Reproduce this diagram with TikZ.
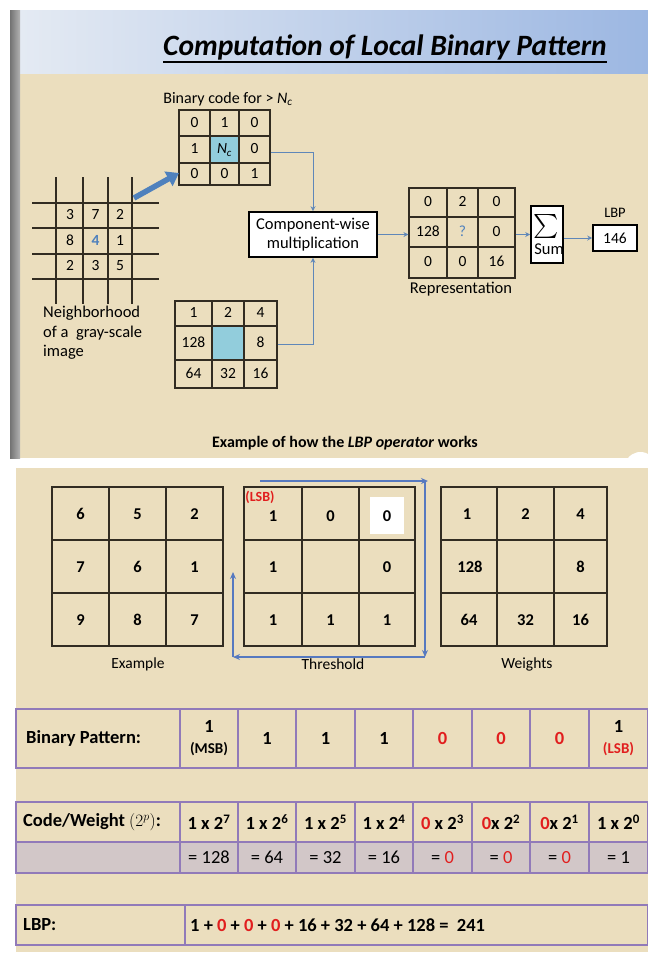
\documentclass[tikz,border=0pt]{standalone}
\usepackage{fontspec}
\setmainfont{Carlito}
\usetikzlibrary{arrows.meta,fit}
\definecolor{parch}{RGB}{235,222,190}
\definecolor{bandL}{RGB}{228,234,243}
\definecolor{bandR}{RGB}{156,183,226}
\definecolor{lineblue}{RGB}{95,135,185}
\definecolor{arrowblue}{RGB}{79,129,189}
\definecolor{cellblue}{RGB}{146,205,220}
\definecolor{lbpred}{RGB}{225,30,30}
\definecolor{tabpurple}{RGB}{145,122,185}
\definecolor{rowgray}{RGB}{210,199,200}
\definecolor{gridcol}{RGB}{50,44,34}
\newcommand{\threegrid}[9]{%
  \node[fit={(#2,#3) (#4,#5)}, inner sep=0pt, gridframe] (#1) {};
  \draw[gridframe] (#6,#3) -- (#6,#5) (#7,#3) -- (#7,#5) (#2,#8) -- (#4,#8) (#2,#9) -- (#4,#9);
}
\tikzset{
  gridframe/.style={draw=gridcol, line width=1.1pt},
  f14/.style={font=\fontsize{14.5}{17}\selectfont},
  f15/.style={font=\fontsize{15.5}{18}\selectfont},
  f16/.style={font=\fontsize{16.5}{19.5}\selectfont},
  num/.style={f15, inner sep=1pt, text height=0.63em, text depth=0pt, yshift=-1pt},
  bnum/.style={font=\fontsize{16.5}{19}\selectfont\bfseries, inner sep=1pt, text height=0.63em, text depth=0pt, yshift=-3pt},
  tabtxt/.style={font=\fontsize{18.5}{20}\selectfont\bfseries, inner sep=1pt},
  tabreg/.style={font=\fontsize{18.5}{20}\selectfont, inner sep=1pt},
  thickbox/.style={draw=black, line width=1.6pt, fill=white, inner sep=2pt},
  conn/.style={draw=lineblue, line width=0.9pt, -{Stealth[length=5pt,width=5pt]}},
  cycarrow/.style={draw=lineblue!90!blue, line width=1.4pt, -{Stealth[length=7pt,width=6pt]}},
  tabline/.style={draw=tabpurple, line width=1.4pt}
}
\begin{document}
\begin{tikzpicture}[x=1pt,y=-1pt]
\useasboundingbox (0,0) rectangle (648,956);
\fill[white] (0,0) rectangle (648,956);
% ---------------- slide 1 ----------------
\fill[parch] (20,72) rectangle (648,458);
\shade[left color=bandL, right color=bandR] (20,10) rectangle (648,73);
\shade[left color=black!55, right color=black!30] (10,10) rectangle (20,458);
\fill[white] (628,458) .. controls (633,452) and (641,450) .. (648,454) -- (648,458) -- cycle;
\node[font=\fontsize{29.5}{34}\selectfont\bfseries\itshape, anchor=base, inner sep=0pt] (title) at (385,55) {Computation of Local Binary Pattern};
\draw[line width=1.8pt] (title.base west) ++(0,7) -- ([yshift=-7pt]title.base east);
\node[font=\fontsize{16}{19}\selectfont, inner sep=0pt] (bclabel) at (228,99) {Binary code for > \textit{N}\textsubscript{\textit{c}}};
% binary code grid
\fill[cellblue] (210,136) rectangle (239,163);
\threegrid{bin}{179}{110}{270}{185}{210}{239}{136}{163}
\foreach \x/\t [count=\k] in {194.5/0,224.5/1,254.5/0} \node[num] (bina\k) at (\x,123) {\t};
\foreach \x/\t [count=\k] in {194.5/1,254.5/0} \node[num] (binb\k) at (\x,149.5) {\t};
\node[f15, inner sep=0pt] (nc) at (224.5,150) {\textit{N}\textsubscript{\textit{c}}};
\foreach \x/\t [count=\k] in {194.5/0,224.5/0,254.5/1} \node[num] (binc\k) at (\x,174) {\t};
% neighborhood
\foreach \y [count=\k] in {203,228,254,279} \draw[gridcol, line width=1.2pt] (32,\y) -- (159,\y) coordinate (nh\k);
\foreach \x [count=\k] in {56,83,108,132} \draw[gridcol, line width=1.2pt] (\x,177) coordinate (nv\k) -- (\x,304);
\foreach \x/\t [count=\k] in {70/3,95.5/7,120/2} \node[num] (nba\k) at (\x,215.5) {\t};
\foreach \x/\t [count=\k] in {70/8,95.5/{\textcolor{arrowblue}{\bfseries 4}},120/1} \node[num] (nbb\k) at (\x,241) {\t};
\foreach \x/\t [count=\k] in {70/2,95.5/3,120/5} \node[num] (nbc\k) at (\x,266.5) {\t};
\node[f16, anchor=north west, align=left, inner sep=0pt] (nbtext) at (43,306) {Neighborhood\\of a\ \ gray-scale\\image};
% block arrow
\coordinate (bat) at (134,198);
\coordinate (bah) at (179,173);
\draw[arrowblue, line width=5.5pt, -{Triangle[length=12pt,width=16pt]}] (bat) -- (bah);
% weights grid
\fill[cellblue] (212,326) rectangle (244,360);
\threegrid{wts}{175}{301}{277}{388}{212}{244}{326}{360}
\foreach \x/\t [count=\k] in {193.5/1,228/2,260.5/4} \node[num] (wta\k) at (\x,313.5) {\t};
\foreach \x/\t [count=\k] in {193.5/128,260.5/8} \node[num] (wtb\k) at (\x,343) {\t};
\foreach \x/\t [count=\k] in {193.5/64,228/32,260.5/16} \node[num] (wtc\k) at (\x,374) {\t};
% component-wise box
\node[thickbox, f16, minimum width=128pt, minimum height=45pt, align=center, inner sep=1pt] (comp) at (313,234.5) {Component-wise\\multiplication};
\draw[conn] ([yshift=-5pt]bin.east) -| (comp.north);
\draw[conn] (wts.east) -| (comp.south);
% representation grid
\threegrid{rep}{409}{188}{515}{278}{447}{478}{217}{247}
\foreach \x/\t [count=\k] in {428/0,462.5/2,496.5/0} \node[num] (rpa\k) at (\x,202.5) {\t};
\foreach \x/\t [count=\k] in {428/128,462.5/{\textcolor{arrowblue}{?}},496.5/0} \node[num] (rpb\k) at (\x,232) {\t};
\foreach \x/\t [count=\k] in {428/0,462.5/0,496.5/16} \node[num] (rpc\k) at (\x,262.5) {\t};
\node[f16, inner sep=0pt] (replabel) at (461,289) {Representation};
\draw[conn] (comp.east) -- (comp.east -| rep.west);
% sum box
\node[thickbox, minimum width=32pt, minimum height=57pt, inner sep=0pt] (sum) at (547,234.5) {};
\node[inner sep=0pt] (sigma) at (546,226) {\scalebox{2.4}{$\sum$}};
\node[f16, inner sep=0pt] (sumtxt) at (549,249) {Sum};
\draw[conn] (rep.east |- sum.west) -- (sum.west);
% LBP result
\node[thickbox, f15, minimum width=44pt, minimum height=26pt, inner sep=0pt] (lbpbox) at (615,238) {146};
\node[f14, inner sep=0pt] (lbplabel) at (615,213) {LBP};
\draw[conn] (sum.east |- lbpbox.west) -- (lbpbox.west);
% caption
\node[font=\fontsize{16}{18}\selectfont\bfseries, inner sep=0pt] (caption) at (345,443) {Example of how the \textit{LBP operator} works};
% ---------------- slide 2 ----------------
\fill[parch] (16,468) rectangle (648,952);
% example grid
\threegrid{exg}{52}{487}{223}{646}{109}{166}{540}{593}
\foreach \x/\t [count=\k] in {80.5/6,137.5/5,194.5/2} \node[bnum] (exa\k) at (\x,513.5) {\t};
\foreach \x/\t [count=\k] in {80.5/7,137.5/6,194.5/1} \node[bnum] (exb\k) at (\x,566.5) {\t};
\foreach \x/\t [count=\k] in {80.5/9,137.5/8,194.5/7} \node[bnum] (exc\k) at (\x,619.5) {\t};
\node[f15, inner sep=0pt] (exlabel) at (138,664) {Example};
% threshold grid
\fill[white] (370,497) rectangle (404,534);
\threegrid{thg}{244}{487}{415}{646}{302}{359}{540}{593}
\foreach \x/\t [count=\k] in {273/1,330.5/0,387/0} \node[bnum] (tha\k) at (\x,515.5) {\t};
\foreach \x/\t [count=\k] in {273/1,387/0} \node[bnum] (thb\k) at (\x,566.5) {\t};
\foreach \x/\t [count=\k] in {273/1,330.5/1,387/1} \node[bnum] (thc\k) at (\x,619.5) {\t};
\node[font=\fontsize{14}{16}\selectfont\bfseries, text=lbpred, inner sep=0pt] (lsbtag) at (260,497.5) {(LSB)};
\node[f15, inner sep=0pt] (thlabel) at (333,664) {Threshold};
% weights grid
\threegrid{wg}{441}{487}{607}{646}{497}{554}{540}{593}
\foreach \x/\t [count=\k] in {467/1,525.5/2,580.5/4} \node[bnum] (wga\k) at (\x,513.5) {\t};
\foreach \x/\t [count=\k] in {470/128,580.5/8} \node[bnum] (wgb\k) at (\x,566.5) {\t};
\foreach \x/\t [count=\k] in {469/64,525.5/32,580.5/16} \node[bnum] (wgc\k) at (\x,619.5) {\t};
\node[f15, inner sep=0pt] (wglabel) at (527,664) {Weights};
% circular arrows
\coordinate (c1) at (260,481);
\coordinate (c2) at (428,481);
\coordinate (c3) at (425,481);
\coordinate (c4) at (425,657);
\coordinate (c5) at (233,657);
\coordinate (c6) at (233,572);
\draw[cycarrow] (c1) -- (c2);
\draw[cycarrow] (c3) -- (c4);
\draw[cycarrow] (c4) -- (c5);
\draw[cycarrow] (c5) -- (c6);
% binary pattern table
\draw[tabline] (16,709) rectangle (648,768);
\foreach \x in {180,238,296,355,413,472,530,589} \draw[tabline] (\x,709) -- (\x,768);
\node[tabtxt, anchor=west] (bplabel) at (25,738.5) {Binary Pattern:};
\node[tabtxt, align=center] (bp1) at (209,738.5) {1\\[1pt]{\fontsize{15}{17}\selectfont (MSB)}};
\foreach \x/\t [count=\k from 2] in {267/1,325.5/1,384/1,442.5/{\textcolor{lbpred}{0}},501/{\textcolor{lbpred}{0}},559.5/{\textcolor{lbpred}{0}}} \node[tabtxt] (bp\k) at (\x,738.5) {\t};
\node[tabtxt, align=center] (bp8) at (618.5,738.5) {1\\[1pt]{\fontsize{15}{17}\selectfont\color{lbpred}(LSB)}};
% code / weight table
\fill[rowgray] (16,842) rectangle (648,873);
\draw[tabline] (16,802) rectangle (648,873);
\draw[tabline] (16,842) -- (648,842);
\foreach \x in {180,238,296,355,413,472,530,589} \draw[tabline] (\x,802) -- (\x,873);
\node[tabtxt, anchor=west] (cwlabel) at (22,822) {Code/Weight \mdseries$(2^p)$\bfseries:};
\foreach \x/\t [count=\k] in {209/{1 x 2\textsuperscript{7}},267/{1 x 2\textsuperscript{6}},325.5/{1 x 2\textsuperscript{5}},384/{1 x 2\textsuperscript{4}},442.5/{\textcolor{lbpred}{0} x 2\textsuperscript{3}},501/{\textcolor{lbpred}{0}x 2\textsuperscript{2}},559.5/{\textcolor{lbpred}{0}x 2\textsuperscript{1}},618.5/{1 x 2\textsuperscript{0}}} \node[tabtxt] (cw\k) at (\x,822) {\t};
\foreach \x/\t [count=\k] in {209/{= 128},267/{= 64},325.5/{= 32},384/{= 16},442.5/{= \textcolor{lbpred}{0}},501/{= \textcolor{lbpred}{0}},559.5/{= \textcolor{lbpred}{0}},618.5/{= 1}} \node[tabreg] (ev\k) at (\x,857.5) {\t};
% LBP table
\draw[tabline] (16,905) rectangle (648,945);
\draw[tabline] (185,905) -- (185,945);
\node[tabtxt, anchor=west] (lbpl) at (22,925) {LBP:};
\node[tabtxt, anchor=west] (lbpexpr) at (189,925) {1 + \textcolor{lbpred}{0} + \textcolor{lbpred}{0} + \textcolor{lbpred}{0} + 16 + 32 + 64 + 128 =\ \ 241};
\end{tikzpicture}
\end{document}
